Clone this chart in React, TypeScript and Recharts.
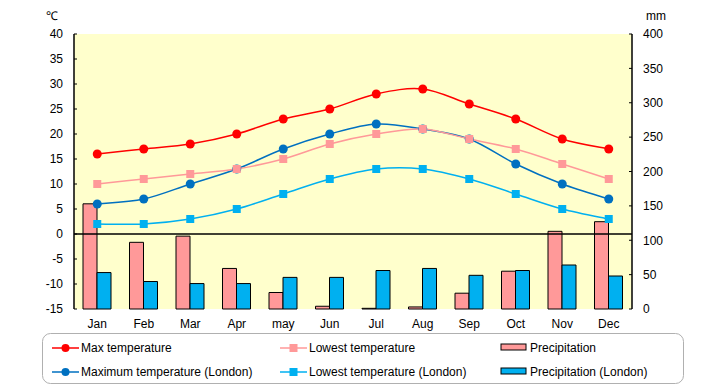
import { ComposedChart, Bar, Line, XAxis, YAxis, ReferenceLine, CartesianGrid } from 'recharts';

const months = ['Jan', 'Feb', 'Mar', 'Apr', 'may', 'Jun', 'Jul', 'Aug', 'Sep', 'Oct', 'Nov', 'Dec'];
const maxTemp = [16, 17, 18, 20, 23, 25, 28, 29, 26, 23, 19, 17];
const lowTemp = [10, 11, 12, 13, 15, 18, 20, 21, 19, 17, 14, 11];
const maxLondon = [6, 7, 10, 13, 17, 20, 22, 21, 19, 14, 10, 7];
const lowLondon = [2, 2, 3, 5, 8, 11, 13, 13, 11, 8, 5, 3];
const precip = [153, 97, 106, 59, 24, 4, 1, 3, 23, 55, 113, 127];
const precipLondon = [53, 40, 37, 37, 46, 46, 56, 59, 49, 56, 64, 48];

const tempTicks = [-15, -10, -5, 0, 5, 10, 15, 20, 25, 30, 35, 40];
const mmTicks = [0, 50, 100, 150, 200, 250, 300, 350, 400];

const data = months.map((m, i) => ({
  month: m,
  maxTemp: maxTemp[i],
  lowTemp: lowTemp[i],
  maxLondon: maxLondon[i],
  lowLondon: lowLondon[i],
  precip: precip[i],
  precipLondon: precipLondon[i],
}));

const font = '"Liberation Sans", Arial, sans-serif';

// Excel-like smoothing (Catmull-Rom through every point)
const smoothCurve = (context: any) => {
  let pts: [number, number][] = [];
  return {
    areaStart() {},
    areaEnd() {},
    lineStart() {
      pts = [];
    },
    point(x: number, y: number) {
      pts.push([+x, +y]);
    },
    lineEnd() {
      if (!pts.length) return;
      context.moveTo(pts[0][0], pts[0][1]);
      for (let i = 0; i < pts.length - 1; i++) {
        const p0 = pts[Math.max(i - 1, 0)];
        const p1 = pts[i];
        const p2 = pts[i + 1];
        const p3 = pts[Math.min(i + 2, pts.length - 1)];
        context.bezierCurveTo(
          p1[0] + (p2[0] - p0[0]) / 6,
          p1[1] + (p2[1] - p0[1]) / 6,
          p2[0] - (p3[0] - p1[0]) / 6,
          p2[1] - (p3[1] - p1[1]) / 6,
          p2[0],
          p2[1]
        );
      }
    },
  };
};

const SquareDot = (color: string) => (props: any) => {
  const { cx, cy, index } = props;
  if (cx == null || cy == null) return null;
  return <rect key={index} x={cx - 4} y={cy - 4} width={8} height={8} fill={color} />;
};

const CircleDot = (color: string) => (props: any) => {
  const { cx, cy, index } = props;
  if (cx == null || cy == null) return null;
  return <circle key={index} cx={cx} cy={cy} r={4.5} fill={color} />;
};

const legendItems = [
  { label: 'Max temperature', color: '#FF0000', kind: 'circle', x: 52, y: 348 },
  { label: 'Lowest temperature', color: '#FF9999', kind: 'square', x: 280, y: 348 },
  { label: 'Precipitation', color: '#FF9999', kind: 'bar', x: 501, y: 348 },
  { label: 'Maximum temperature (London)', color: '#0070C0', kind: 'circle', x: 52, y: 372 },
  { label: 'Lowest temperature (London)', color: '#00B0F0', kind: 'square', x: 280, y: 372 },
  { label: 'Precipitation (London)', color: '#00B0F0', kind: 'bar', x: 501, y: 372 },
];

const LegendBox = () => (
  <svg width={720} height={385} style={{ position: 'absolute', left: 0, top: 0, pointerEvents: 'none' }}>
    <rect x={42.5} y={333.5} width={641} height={50} rx={8} fill="#fff" stroke="#b0b0b0" />
    {legendItems.map((it) => (
      <g key={it.label}>
        {it.kind === 'bar' ? (
          <rect x={it.x} y={it.y - 4} width={25} height={6} fill={it.color} stroke="#000" />
        ) : (
          <>
            <line x1={it.x} x2={it.x + 27} y1={it.y} y2={it.y} stroke={it.color} strokeWidth={1.5} />
            {it.kind === 'circle' ? (
              <circle cx={it.x + 13.5} cy={it.y} r={4} fill={it.color} />
            ) : (
              <rect x={it.x + 9.5} y={it.y - 4} width={8} height={8} fill={it.color} />
            )}
          </>
        )}
        <text x={it.x + 29} y={it.y + 4} fontSize={12} fontFamily={font} fill="#000">
          {it.label}
        </text>
      </g>
    ))}
  </svg>
);

export default function App() {
  return (
    <div style={{ position: 'absolute', left: 0, top: 0, width: 720, height: 385, background: '#fff', fontFamily: font }}>
      <ComposedChart width={720} height={385} data={data} margin={{ top: 34, right: 0, bottom: 56, left: 0 }} barGap={0} barSize={14}>
        <CartesianGrid horizontal={false} vertical={false} fill="#FFFFCC" stroke="#F5F08A" />
        <XAxis
          dataKey="month"
          axisLine={false}
          tickLine={false}
          height={20}
          tick={{ fill: '#000', fontSize: 12, fontFamily: font }}
          tickMargin={4}
        />
        <YAxis
          yAxisId="left"
          orientation="left"
          width={74}
          domain={[-15, 40]}
          ticks={tempTicks}
          interval={0}
          allowDataOverflow
          axisLine={{ stroke: '#000', strokeWidth: 1.5 }}
          tickLine={{ stroke: '#000' }}
          tickSize={-3}
          tickMargin={14}
          tick={{ fill: '#000', fontSize: 12, fontFamily: font }}
        />
        <YAxis
          yAxisId="right"
          orientation="right"
          width={88}
          domain={[0, 400]}
          ticks={mmTicks}
          interval={0}
          axisLine={{ stroke: '#000', strokeWidth: 1.5 }}
          tickLine={{ stroke: '#000' }}
          tickSize={-3}
          tickMargin={14}
          tick={{ fill: '#000', fontSize: 12, fontFamily: font, textAnchor: 'start' }}
        />
        <Bar yAxisId="right" dataKey="precip" fill="#FF9999" stroke="#000" strokeWidth={1} isAnimationActive={false} />
        <Bar yAxisId="right" dataKey="precipLondon" fill="#00B0F0" stroke="#000" strokeWidth={1} isAnimationActive={false} />
        <ReferenceLine yAxisId="left" y={0} stroke="#000" strokeWidth={1.5} />
        <Line yAxisId="left" type={smoothCurve as any} dataKey="lowLondon" stroke="#00B0F0" strokeWidth={1.5} dot={SquareDot('#00B0F0')} isAnimationActive={false} />
        <Line yAxisId="left" type={smoothCurve as any} dataKey="maxLondon" stroke="#0070C0" strokeWidth={1.5} dot={CircleDot('#0070C0')} isAnimationActive={false} />
        <Line yAxisId="left" type={smoothCurve as any} dataKey="lowTemp" stroke="#FF9999" strokeWidth={1.5} dot={SquareDot('#FF9999')} isAnimationActive={false} />
        <Line yAxisId="left" type={smoothCurve as any} dataKey="maxTemp" stroke="#FF0000" strokeWidth={1.5} dot={CircleDot('#FF0000')} isAnimationActive={false} />
        <text x={46} y={20} fontSize={12} fontFamily={font} fill="#000">℃</text>
        <text x={646} y={20} fontSize={12} fontFamily={font} fill="#000">mm</text>
      </ComposedChart>
      <LegendBox />
    </div>
  );
}
